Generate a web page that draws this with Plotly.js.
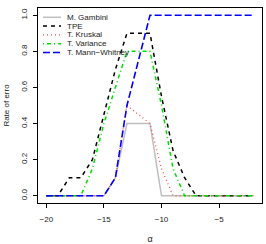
<!DOCTYPE html>
<html><head><meta charset="utf-8">
<script src="https://cdn.plot.ly/plotly-3.0.1.min.js"></script>
<style>html,body{margin:0;padding:0;background:#fff}#c{width:266px;height:244px}</style>
</head><body><div id="c"></div>
<script>
const alpha = [-20,-19,-18,-17,-16,-15,-14,-13,-12,-11,-10,-9,-8,-7,-6,-5,-4,-3,-2];
const gambini  = [0,0,0,0,0,0,0.1,0.4,0.4,0.4,0,0,0,0,0,0,0,0,0];
const tpe      = [0,0,0.1,0.1,0.2,0.45,0.7,0.9,0.9,0.9,0.55,0.25,0.1,0,0,0,0,0,0];
const kruskal  = [0,0,0,0,0,0,0.1,0.5,0.45,0.4,0.15,0,0,0,0,0,0,0,0];
const variance = [0,0,0,0,0.15,0.4,0.6,0.8,0.8,0.8,0.5,0.15,0,0,0,0,0,0,0];
const mannW    = [0,0,0,0,0,0,0.1,0.5,0.75,1,1,1,1,1,1,1,1,1,1];
const seriesNames = ["M. Gambini","TPE","T. Kruskal","T. Variance","T. Mann\u2212Whitney"];
const xTicks = [-20,-15,-10,-5];
const yTicks = [0,0.2,0.4,0.6,0.8,1.0];

const styles = [
  {color:"#bebebe", dash:"solid", width:1.5},
  {color:"#000000", dash:"4px,4px", width:1.5},
  {color:"#ff4a4a", dash:"1px,3px", width:1.3},
  {color:"#00e000", dash:"1px,3px,4px,3px", width:1.5},
  {color:"#0000ff", dash:"7px,3px", width:1.6}
];
const ys = [gambini, tpe, kruskal, variance, mannW];
const traces = ys.map((y,i)=>({x:alpha, y:y, type:"scatter", mode:"lines", name:seriesNames[i],
  line:{color:styles[i].color, dash:styles[i].dash, width:styles[i].width}, showlegend:false, hoverinfo:"skip"}));

const W=266,H=244,L=38,R=4,T=8,B=41;
const pw=W-L-R, ph=H-T-B;
const px2x = x => (x-L)/pw, px2y = y => (H-B-y)/ph;
const shapes=[], annotations=[];
seriesNames.forEach((n,i)=>{
  const yy = px2y(17.3+8.8*i);
  shapes.push({type:"line", xref:"paper", yref:"paper", x0:px2x(43), x1:px2x(61), y0:yy, y1:yy,
    line:{color:styles[i].color, dash:styles[i].dash, width:styles[i].width}});
  annotations.push({xref:"paper", yref:"paper", x:px2x(65), y:yy, xanchor:"left", yanchor:"middle",
    text:n, showarrow:false, font:{family:"Liberation Sans, Arial, sans-serif", size:8, color:"#222"}});
});

const layout = {
  width:W, height:H, margin:{l:L,r:R,t:T,b:B}, paper_bgcolor:"#fff", plot_bgcolor:"#fff",
  font:{family:"Liberation Sans, Arial, sans-serif", size:8, color:"#222"},
  xaxis:{range:[-20.72,-1.28], tickvals:xTicks, ticks:"outside", ticklen:4, tickwidth:1, tickcolor:"#000",
    ticklabelstandoff:4,
    showline:true, mirror:true, linecolor:"#000", linewidth:1, showgrid:false, zeroline:false,
    title:{text:"\u03b1", font:{size:9}, standoff:14}, tickfont:{size:8}},
  yaxis:{range:[-0.04,1.04], tickvals:yTicks, tickformat:".1f", ticks:"outside", ticklen:4, tickwidth:1, tickcolor:"#000",
    ticklabelstandoff:3,
    tickangle:-90, showline:true, mirror:true, linecolor:"#000", linewidth:1, showgrid:false, zeroline:false,
    title:{text:"Rate of erro", font:{size:8}, standoff:8}, tickfont:{size:8}},
  shapes:shapes, annotations:annotations, showlegend:false
};
Plotly.newPlot("c", traces, layout, {staticPlot:true, displayModeBar:false});
</script></body></html>
